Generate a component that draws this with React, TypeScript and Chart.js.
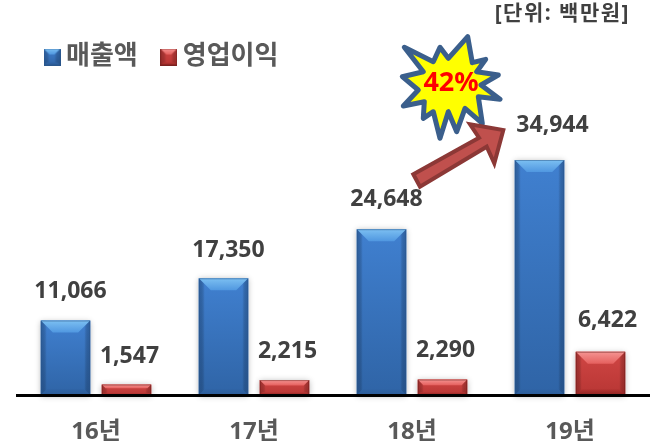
import React, { useEffect, useRef } from "react";
import { Chart, registerables } from "chart.js";

Chart.register(...registerables);

const categories = ["16년", "17년", "18년", "19년"];
const revenue = [11066, 17350, 24648, 34944];
const profit = [1547, 2215, 2290, 6422];
const seriesNames = ["매출액", "영업이익"];
const unitLabel = "[단위: 백만원]";
const growthLabel = "42%";

const FONT = '"Noto Sans", "Noto Sans CJK KR", sans-serif';
const TEXT = "#595959";
const LABEL = "#404040";

// manual label nudges [dx, dy] relative to each bar's top centre
const labelNudge = [
  [[5, -29], [3, -28]],
  [[5, -28], [3, -29]],
  [[5, -30], [3, -29]],
  [[13, -35], [7, -31]],
];

const starPoints = [
  [467.7, 36.7], [472.3, 62.7], [485.7, 59.3], [476.7, 71.7], [498.3, 75], [481, 85],
  [500, 99.3], [478.3, 96.7], [482.3, 123.3], [465, 108.3], [456.7, 131.7], [448.3, 111.7],
  [440, 138.3], [433.3, 111.7], [423.3, 118.3], [424.3, 101.7], [403.3, 106], [418.3, 90],
  [402.3, 76.7], [423.3, 71.7], [404.3, 47.3], [433.3, 61.7], [440, 47.3], [448.3, 58.3],
];
const arrowPoints = [
  [413.3, 174.3], [420, 186.7], [486.7, 146.7], [494.3, 163.3], [503.3, 130], [470, 124.3], [479, 137.7],
];

type Pal = { base: string; top: string; topEnd: string; bottom: string; side: string; dark: string; edge: string };
const bluePal: Pal = { base: "#4080d0", top: "#7cc0f2", topEnd: "#5097e0", bottom: "#2c5c98", side: "#234f88", dark: "#2f64a6", edge: "#28507f" };
const redPal: Pal = { base: "#d04644", top: "#f59492", topEnd: "#e5605e", bottom: "#8e2422", side: "#8e2422", dark: "#b83634", edge: "#5e1a18" };

function poly(ctx: CanvasRenderingContext2D, pts: number[][]) {
  ctx.beginPath();
  pts.forEach((p, i) => (i ? ctx.lineTo(p[0], p[1]) : ctx.moveTo(p[0], p[1])));
  ctx.closePath();
}

function bevelRect(ctx: CanvasRenderingContext2D, l: number, t: number, r: number, b: number, pal: Pal, maxBevel: number) {
  const h = b - t;
  const w = r - l;
  const bv = Math.min(maxBevel, h * 0.36);
  const bb = bv * 0.5;
  const sv = 6;
  const vg = ctx.createLinearGradient(0, t, 0, b);
  vg.addColorStop(0, pal.base);
  vg.addColorStop(1, pal.dark);
  ctx.fillStyle = vg;
  ctx.fillRect(l, t, w, h);
  // sides
  const lg = ctx.createLinearGradient(l, 0, l + sv, 0);
  lg.addColorStop(0, pal.side);
  lg.addColorStop(1, "rgba(0,0,0,0)");
  const rg = ctx.createLinearGradient(r - sv, 0, r, 0);
  rg.addColorStop(0, "rgba(0,0,0,0)");
  rg.addColorStop(1, pal.side);
  ctx.globalAlpha = 0.55;
  ctx.fillStyle = lg;
  ctx.fillRect(l, t, sv, h);
  ctx.fillStyle = rg;
  ctx.fillRect(r - sv, t, sv, h);
  ctx.globalAlpha = 1;
  // top
  const tg = ctx.createLinearGradient(0, t, 0, t + bv);
  tg.addColorStop(0, pal.top);
  tg.addColorStop(1, pal.topEnd);
  poly(ctx, [[l, t], [r, t], [r - bv, t + bv], [l + bv, t + bv]]);
  ctx.fillStyle = tg;
  ctx.fill();
  // bottom
  const bg = ctx.createLinearGradient(0, b - bb, 0, b);
  bg.addColorStop(0, pal.dark);
  bg.addColorStop(1, pal.bottom);
  poly(ctx, [[l, b], [r, b], [r - bb, b - bb], [l + bb, b - bb]]);
  ctx.fillStyle = bg;
  ctx.fill();
  ctx.strokeStyle = pal.edge;
  ctx.globalAlpha = 0.45;
  ctx.lineWidth = 1;
  ctx.strokeRect(l + 0.5, t + 0.5, w - 1, h - 1);
  ctx.globalAlpha = 1;
}

function legendSwatch(pal: Pal) {
  const c = document.createElement("canvas");
  c.width = 17;
  c.height = 17;
  const ctx = c.getContext("2d")!;
  bevelRect(ctx, 0, 0, 17, 17, pal, 6);
  return c;
}

const barStyle = {
  id: "barStyle",
  beforeDatasetsDraw(chart: any) {
    const { ctx } = chart;
    chart.data.datasets.forEach((_: any, di: number) => {
      chart.getDatasetMeta(di).data.forEach((el: any) => {
        ctx.save();
        ctx.shadowColor = "rgba(0,0,0,0.3)";
        ctx.shadowBlur = 6;
        ctx.shadowOffsetY = 1;
        ctx.fillStyle = "#fff";
        ctx.fillRect(el.x - el.width / 2, el.y, el.width, el.base - el.y);
        ctx.restore();
      });
    });
  },
  afterDatasetsDraw(chart: any) {
    const { ctx } = chart;
    const pals = [bluePal, redPal];
    chart.data.datasets.forEach((ds: any, di: number) => {
      chart.getDatasetMeta(di).data.forEach((el: any, i: number) => {
        ctx.save();
        bevelRect(ctx, el.x - el.width / 2, el.y, el.x + el.width / 2, el.base, pals[di], 12);
        ctx.restore();
        const [dx, dy] = labelNudge[i][di];
        ctx.save();
        ctx.font = `bold 23px ${FONT}`;
        ctx.fillStyle = LABEL;
        ctx.textAlign = "center";
        ctx.textBaseline = "middle";
        ctx.fillText(ds.data[i].toLocaleString("en-US"), el.x + dx, el.y + dy);
        ctx.restore();
      });
    });
  },
};

const decorations = {
  id: "decorations",
  afterDraw(chart: any) {
    const { ctx } = chart;
    ctx.save();
    ctx.lineJoin = "round";
    poly(ctx, starPoints);
    ctx.fillStyle = "#ffff00";
    ctx.fill();
    ctx.strokeStyle = "#3b5f8c";
    ctx.lineWidth = 5;
    ctx.stroke();
    ctx.lineJoin = "miter";
    poly(ctx, arrowPoints);
    ctx.fillStyle = "#c0504d";
    ctx.fill();
    ctx.strokeStyle = "#8c3836";
    ctx.lineWidth = 4;
    ctx.stroke();
    ctx.textAlign = "center";
    ctx.textBaseline = "middle";
    ctx.fillStyle = "#ff0000";
    ctx.font = `bold 27px ${FONT}`;
    ctx.fillText(growthLabel, 451, 83);
    ctx.fillStyle = LABEL;
    ctx.textAlign = "right";
    ctx.font = `bold 21px ${FONT}`;
    (ctx as any).letterSpacing = "1.5px";
    ctx.fillText(unitLabel, 630, 14);
    (ctx as any).letterSpacing = "0px";
    ctx.restore();
  },
};

const legendPlacer = {
  id: "legendPlacer",
  afterLayout(chart: any) {
    chart.legend.left = 21;
    chart.legend.top = 14;
  },
};

export default function App() {
  const ref = useRef<HTMLCanvasElement>(null);
  useEffect(() => {
    const images = [legendSwatch(bluePal), legendSwatch(redPal)];
    const chart = new Chart(ref.current!, {
      type: "bar",
      data: {
        labels: categories,
        datasets: [
          { label: seriesNames[0], data: revenue, backgroundColor: bluePal.base, pointStyle: images[0] as any },
          { label: seriesNames[1], data: profit, backgroundColor: redPal.base, pointStyle: images[1] as any },
        ],
      },
      options: {
        animation: false,
        responsive: false,
        devicePixelRatio: 1,
        layout: { padding: { left: 17, right: 5, top: 60, bottom: 0 } },
        datasets: { bar: { categoryPercentage: 0.772, barPercentage: 0.81 } },
        scales: {
          x: {
            afterFit: (s: any) => { s.height = 48; },
            grid: { display: false },
            border: { display: true, color: "#000", width: 3, z: 1 },
            ticks: { color: TEXT, font: { family: FONT, size: 24, weight: "bold" }, padding: 15, maxRotation: 0 },
          },
          y: { display: false, min: 0, max: 40000 },
        },
        plugins: {
          tooltip: { enabled: false },
          legend: {
            position: "top",
            align: "start",
            labels: {
              usePointStyle: true,
              pointStyleWidth: 2,
              padding: 30,
              color: TEXT,
              font: { family: FONT, size: 26, weight: "bold" },
              generateLabels: (c: any) =>
                c.data.datasets.map((d: any, i: number) => ({
                  text: d.label,
                  pointStyle: d.pointStyle,
                  datasetIndex: i,
                  fontColor: TEXT,
                  lineWidth: 0,
                  strokeStyle: "transparent",
                  fillStyle: "transparent",
                })),
            },
          } as any,
        },
      } as any,
      plugins: [legendPlacer, barStyle, decorations],
    });
    return () => chart.destroy();
  }, []);
  return (
    <div style={{ position: "absolute", left: 0, top: 0, width: 654, height: 443, background: "#fff" }}>
      <canvas ref={ref} width={654} height={443} style={{ display: "block" }} />
    </div>
  );
}
